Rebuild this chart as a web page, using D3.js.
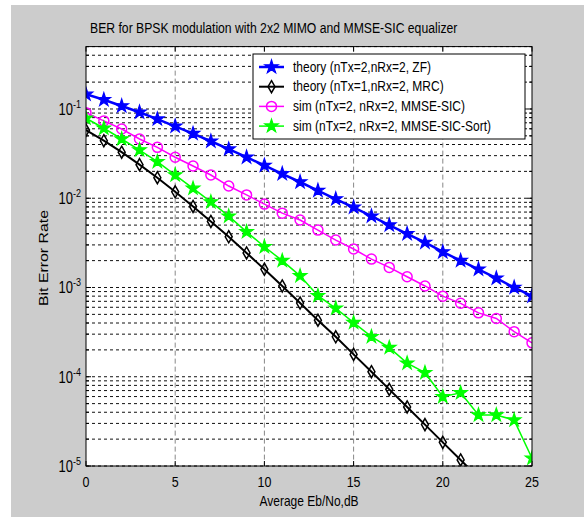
<!DOCTYPE html>
<html>
<head>
<meta charset="utf-8">
<script src="https://cdn.jsdelivr.net/npm/d3@7"></script>
<style>
  body { margin: 0; background: #ffffff; }
  text { font-family: Arial, "Liberation Sans", sans-serif; fill: #000; }
</style>
</head>
<body>
<div id="grafica"></div>
<script>
// valores
const ebNo = [0, 1, 2, 3, 4, 5, 6, 7, 8, 9, 10, 11, 12, 13, 14, 15, 16, 17, 18, 19, 20, 21, 22, 23, 24, 25];
const berZF = [0.146, 0.127, 0.108, 0.092, 0.077, 0.064, 0.053, 0.0435, 0.0355, 0.0288, 0.0233, 0.0188, 0.0152,
    0.0122, 0.0098, 0.0079, 0.0063, 0.0050, 0.0040, 0.0032, 0.0025, 0.0020, 0.0016, 0.00127, 0.00100, 0.00080];
const berMRC = [0.058, 0.0441, 0.0328, 0.0238, 0.0170, 0.0118, 0.0081, 0.0055, 0.0037, 0.00244, 0.0016, 0.00104,
    0.00067, 0.00043, 0.00028, 0.000178, 0.000114, 0.0000722, 0.0000459, 0.0000291, 0.0000184, 0.0000117,
    0.0000074, 0.0000047, 0.0000030, 0.0000019];
const berSIC = [0.091, 0.0735, 0.0597, 0.0461, 0.0372, 0.0288, 0.0230, 0.0182, 0.0137, 0.0109, 0.0086, 0.0068,
    0.0057, 0.0044, 0.0034, 0.0027, 0.00208, 0.00168, 0.00132, 0.00104, 0.00080, 0.000665, 0.00052, 0.00045,
    0.00032, 0.00024];
const berSICSort = [0.0787, 0.0608, 0.0461, 0.0347, 0.0257, 0.0182, 0.0129, 0.0091, 0.0063, 0.0042, 0.00286,
    0.0020, 0.00135, 0.00081, 0.000585, 0.000404, 0.000281, 0.000212, 0.000142, 0.000111, 0.0000598,
    0.000066, 0.0000373, 0.0000373, 0.0000327, 0.0000122];

const xTicks = [0, 5, 10, 15, 20, 25];
const yTicks = [1e-5, 1e-4, 1e-3, 1e-2, 1e-1];
const yTickExp = ["-5", "-4", "-3", "-2", "-1"];
const leyenda = [
    "theory (nTx=2,nRx=2, ZF)",
    "theory (nTx=1,nRx=2, MRC)",
    "sim (nTx=2, nRx=2, MMSE-SIC)",
    "sim (nTx=2, nRx=2, MMSE-SIC-Sort)"
];

const izq = 86, der = 532, arriba = 46.6, abajo = 466;
const estirar = 1.2; // el texto de la imagen original esta estirado en vertical

const x = d3.scaleLinear().domain([0, 25]).range([izq, der]);
const y = d3.scaleLog().domain([1e-5, 0.5]).range([abajo, arriba]);

const $svg = d3.select("#grafica")
    .append("svg")
    .attr("width", 584)
    .attr("height", 517);

// fondo gris de la figura
$svg.append("rect")
    .attr("x", 11).attr("y", 5)
    .attr("width", 573).attr("height", 512)
    .attr("fill", "#cccccc");

$svg.append("rect")
    .attr("x", izq).attr("y", arriba)
    .attr("width", der - izq).attr("height", abajo - arriba)
    .attr("fill", "#ffffff");

$svg.append("clipPath").attr("id", "recorte")
    .append("rect")
    .attr("x", izq).attr("y", arriba)
    .attr("width", der - izq).attr("height", abajo - arriba);

const texto = (px, py, cadena, tam, ancla) => $svg.append("text")
    .attr("transform", `translate(${px},${py}) scale(1,${estirar})`)
    .attr("font-size", tam)
    .attr("text-anchor", ancla)
    .text(cadena);

// rejilla
const rejilla = $svg.append("g");
rejilla.selectAll(".gh")
    .data(y.ticks())
    .join("line")
    .attr("x1", izq).attr("x2", der)
    .attr("y1", d => y(d)).attr("y2", d => y(d))
    .attr("stroke", "#111")
    .attr("stroke-width", 1)
    .attr("stroke-dasharray", "3,3");
rejilla.selectAll(".gv")
    .data(xTicks.slice(1, -1))
    .join("line")
    .attr("x1", d => x(d)).attr("x2", d => x(d))
    .attr("y1", arriba).attr("y2", abajo)
    .attr("stroke", "#888")
    .attr("stroke-width", 1)
    .attr("stroke-dasharray", "5,3");

// marcas de los ejes (hacia dentro)
const marcas = $svg.append("g").attr("stroke", "#000").attr("stroke-width", 1);
xTicks.forEach(t => {
    marcas.append("line").attr("x1", x(t)).attr("x2", x(t)).attr("y1", abajo).attr("y2", abajo - 5);
    marcas.append("line").attr("x1", x(t)).attr("x2", x(t)).attr("y1", arriba).attr("y2", arriba + 5);
});
y.ticks().forEach(t => {
    const largo = yTicks.includes(t) ? 5 : 3;
    marcas.append("line").attr("x1", izq).attr("x2", izq + largo).attr("y1", y(t)).attr("y2", y(t));
    marcas.append("line").attr("x1", der).attr("x2", der - largo).attr("y1", y(t)).attr("y2", y(t));
});

// curvas
const linea = serie => d3.line()
    .x((d, i) => x(ebNo[i]))
    .y(d => y(d))(serie);

const curvas = $svg.append("g").attr("clip-path", "url(#recorte)");
const series = [
    { datos: berZF, color: "#0000ff", ancho: 2.5, marca: "estrella" },
    { datos: berMRC, color: "#000000", ancho: 2, marca: "diamante" },
    { datos: berSIC, color: "#ff00ff", ancho: 1.5, marca: "circulo" },
    { datos: berSICSort, color: "#00ff00", ancho: 1.5, marca: "estrella" }
];

const dibujarMarca = (g, tipo, color, px, py) => {
    if (tipo === "circulo") {
        g.append("circle")
            .attr("cx", px).attr("cy", py).attr("r", 5)
            .attr("fill", "none").attr("stroke", color).attr("stroke-width", 1.5);
    } else if (tipo === "diamante") {
        g.append("path")
            .attr("transform", `translate(${px},${py})`)
            .attr("d", d3.symbol().type(d3.symbolDiamond).size(42)())
            .attr("fill", "none").attr("stroke", color).attr("stroke-width", 1.5);
    } else {
        g.append("path")
            .attr("transform", `translate(${px},${py})`)
            .attr("d", d3.symbol().type(d3.symbolStar).size(55)())
            .attr("fill", color).attr("stroke", color).attr("stroke-width", 1.2);
    }
};

series.forEach(s => {
    curvas.append("path")
        .attr("d", linea(s.datos))
        .attr("fill", "none")
        .attr("stroke", s.color)
        .attr("stroke-width", s.ancho);
    s.datos.forEach((d, i) => dibujarMarca(curvas, s.marca, s.color, x(ebNo[i]), y(d)));
});

// caja del eje
$svg.append("rect")
    .attr("x", izq).attr("y", arriba)
    .attr("width", der - izq).attr("height", abajo - arriba)
    .attr("fill", "none").attr("stroke", "#000").attr("stroke-width", 1);

// etiquetas de los ejes
xTicks.forEach(t => texto(x(t), 487, t, 12.5, "middle"));
yTicks.forEach((t, i) => {
    const et = $svg.append("text")
        .attr("transform", `translate(81,${y(t) + 6}) scale(1,${estirar})`)
        .attr("font-size", 13)
        .attr("text-anchor", "end");
    et.append("tspan").text("10");
    et.append("tspan").attr("dy", -6).attr("font-size", 9).text(yTickExp[i]);
});

texto(309, 506, "Average Eb/No,dB", 12, "middle");
texto(90, 33, "BER for BPSK modulation with 2x2 MIMO and MMSE-SIC equalizer", 12.2, "start");

$svg.append("text")
    .attr("transform", `translate(48,258) rotate(-90)`)
    .attr("font-size", 13)
    .attr("text-anchor", "middle")
    .attr("textLength", 96)
    .attr("lengthAdjust", "spacingAndGlyphs")
    .text("Bit Error Rate");

// leyenda
const $ley = $svg.append("g");
$ley.append("rect")
    .attr("x", 253).attr("y", 54)
    .attr("width", 272).attr("height", 85)
    .attr("fill", "#ffffff").attr("stroke", "#000").attr("stroke-width", 1);
series.forEach((s, i) => {
    const fy = 67 + i * 19.7;
    $ley.append("line")
        .attr("x1", 259).attr("x2", 284)
        .attr("y1", fy).attr("y2", fy)
        .attr("stroke", s.color).attr("stroke-width", s.ancho);
    dibujarMarca($ley, s.marca, s.color, 271.5, fy);
    $ley.append("text")
        .attr("transform", `translate(293,${fy + 4.5}) scale(1,${estirar})`)
        .attr("font-size", 12)
        .text(leyenda[i]);
});
</script>
</body>
</html>
